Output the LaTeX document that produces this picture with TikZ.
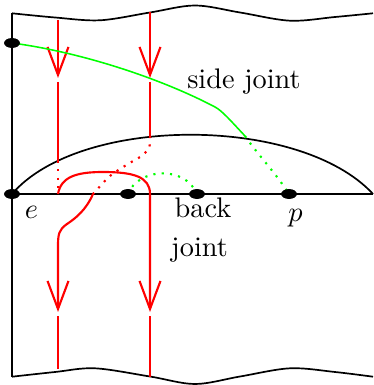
\documentclass[tikz,border=0pt]{standalone}
\usetikzlibrary{arrows.meta,shapes.geometric}
\definecolor{brgreen}{RGB}{0,255,0}
\begin{document}
\begin{tikzpicture}[x=0.3533pt,y=-0.3533pt,
  blk/.style={line width=0.6pt},
  strand/.style={red,line width=0.75pt},
  arr/.style={strand,-{Straight Barb[length=9.9pt,width=7.4pt]}},
  reddot/.style={red,line width=0.75pt,dash pattern=on 0.75pt off 2.2pt},
  grn/.style={brgreen,line width=0.55pt},
  grndot/.style={brgreen,line width=0.75pt,dash pattern=on 0.75pt off 2.2pt},
  dot/.style={ellipse,fill=black,inner sep=0pt,minimum width=5.6pt,minimum height=3.5pt},
  lbl/.style={anchor=base,inner sep=0pt}]
\useasboundingbox (0,0) rectangle (373,385);
% boundary
\draw[blk] plot[smooth,tension=0.55] coordinates {(12,13.3) (55,17.5) (100,20.3) (150,12.5) (195,5.5) (240,12.5) (290,20.7) (335,17) (373,13.3)};
\draw[blk] plot[smooth,tension=0.55] coordinates {(12,376.7) (55,372) (95,368.3) (150,376.5) (195,384) (240,376.5) (290,368.3) (335,372) (373,376.7)};
\draw[blk] (12,13.3) -- (12,376.7);
\draw[blk] (12,194) -- (373,194);
\draw[blk] (12,194) .. controls (80,115) and (300,115) .. (373,194);
% red strands
\draw[arr] (58,20.5) -- (58,78);
\draw[strand] (58,82) -- (58,161);
\draw[reddot] (58,161) -- (58,194);
\draw[arr] (58,194) .. controls (61,177) and (76,172) .. (103,172) .. controls (134,172) and (150,177) .. (150,194) -- (150,312);
\draw[strand] (150,316) -- (150,376.5);
\draw[arr] (150,12.5) -- (150,78);
\draw[strand] (150,82) -- (150,136);
\draw[reddot] plot[smooth] coordinates {(150,136) (149,148) (140,157) (128,164) (110,176) (93,194)};
\draw[arr] (93,194) .. controls (86,210) and (76,218) .. (67,224) .. controls (59,229.5) and (58,234) .. (58,246) -- (58,312);
\draw[strand] (58,316) -- (58,368.8);
% green
\draw[grn] (12,43) .. controls (80,52) and (160,78) .. (215,107) .. controls (222,110.7) and (230,120) .. (245,136);
\draw[grndot] (245,136) .. controls (258,155) and (275,172) .. (289,194);
\draw[grndot] (128,194) .. controls (138,168) and (185,165) .. (197,194);
% dots
\node[dot] (d1) at (12,43) {};
\node[dot] (e0) at (12,194) {};
\node[dot] (b1) at (128,194) {};
\node[dot] (b2) at (197,194) {};
\node[dot] (p0) at (289,194) {};
% labels
\node[lbl] (le) at (31.5,219) {$e$};
\node[lbl] (lp) at (295.5,222) {$p$};
\node[lbl] (lb) at (203,218) {back};
\node[lbl] (lj) at (199.5,256) {joint};
\node[lbl] (ls) at (244,88.3) {side joint};
\end{tikzpicture}
\end{document}
